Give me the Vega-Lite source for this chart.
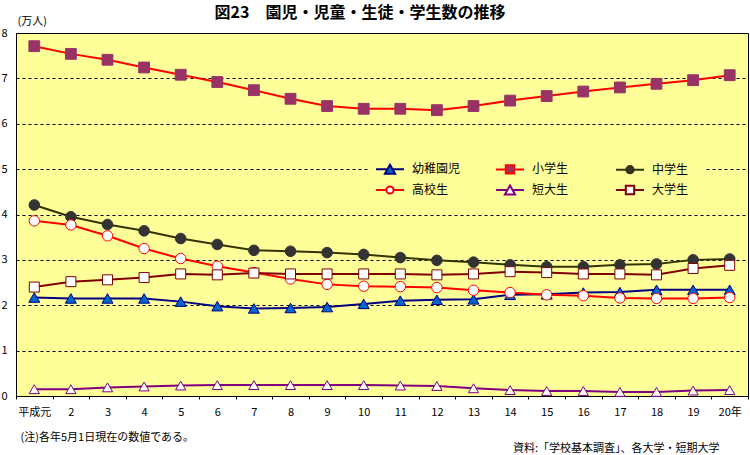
{
  "$schema": "https://vega.github.io/schema/vega-lite/v6.json",
  "width": 732,
  "height": 363,
  "autosize": {"type": "none"},
  "padding": {"left": 16, "top": 33, "right": 2, "bottom": 59},
  "background": "white",
  "title": {
    "text": "図23　園児・児童・生徒・学生数の推移",
    "anchor": "middle",
    "dx": -22,
    "offset": -6,
    "fontSize": 16,
    "fontWeight": "bold",
    "font": "Noto Sans CJK JP",
    "color": "black"
  },
  "config": {
    "view": {"fill": "#FFFF99", "stroke": "black", "strokeWidth": 1},
    "font": "Noto Sans CJK JP",
    "axis": {"labelColor": "black", "titleColor": "black", "labelFont": "Noto Sans CJK JP", "titleFont": "Noto Sans CJK JP", "titleFontWeight": "normal"}
  },
  "data": {
    "values": [
      {"year": "平成元", "幼稚園児": 2.17, "小学生": 7.71, "中学生": 4.21, "高校生": 3.86, "短大生": 0.15, "大学生": 2.40},
      {"year": "2", "幼稚園児": 2.15, "小学生": 7.54, "中学生": 3.95, "高校生": 3.77, "短大生": 0.15, "大学生": 2.52},
      {"year": "3", "幼稚園児": 2.15, "小学生": 7.41, "中学生": 3.78, "高校生": 3.53, "短大生": 0.19, "大学生": 2.56},
      {"year": "4", "幼稚園児": 2.15, "小学生": 7.24, "中学生": 3.64, "高校生": 3.25, "短大生": 0.21, "大学生": 2.61},
      {"year": "5", "幼稚園児": 2.08, "小学生": 7.08, "中学生": 3.47, "高校生": 3.03, "短大生": 0.23, "大学生": 2.69},
      {"year": "6", "幼稚園児": 1.98, "小学生": 6.92, "中学生": 3.34, "高校生": 2.86, "短大生": 0.24, "大学生": 2.67},
      {"year": "7", "幼稚園児": 1.93, "小学生": 6.74, "中学生": 3.21, "高校生": 2.72, "短大生": 0.24, "大学生": 2.71},
      {"year": "8", "幼稚園児": 1.94, "小学生": 6.55, "中学生": 3.19, "高校生": 2.58, "短大生": 0.24, "大学生": 2.69},
      {"year": "9", "幼稚園児": 1.96, "小学生": 6.39, "中学生": 3.16, "高校生": 2.46, "短大生": 0.24, "大学生": 2.69},
      {"year": "10", "幼稚園児": 2.03, "小学生": 6.33, "中学生": 3.12, "高校生": 2.42, "短大生": 0.24, "大学生": 2.69},
      {"year": "11", "幼稚園児": 2.10, "小学生": 6.33, "中学生": 3.05, "高校生": 2.41, "短大生": 0.23, "大学生": 2.69},
      {"year": "12", "幼稚園児": 2.12, "小学生": 6.30, "中学生": 2.99, "高校生": 2.39, "短大生": 0.22, "大学生": 2.67},
      {"year": "13", "幼稚園児": 2.13, "小学生": 6.39, "中学生": 2.95, "高校生": 2.33, "短大生": 0.17, "大学生": 2.69},
      {"year": "14", "幼稚園児": 2.23, "小学生": 6.51, "中学生": 2.89, "高校生": 2.28, "短大生": 0.13, "大学生": 2.74},
      {"year": "15", "幼稚園児": 2.24, "小学生": 6.61, "中学生": 2.85, "高校生": 2.23, "短大生": 0.11, "大学生": 2.72},
      {"year": "16", "幼稚園児": 2.28, "小学生": 6.71, "中学生": 2.85, "高校生": 2.21, "短大生": 0.11, "大学生": 2.69},
      {"year": "17", "幼稚園児": 2.29, "小学生": 6.80, "中学生": 2.89, "高校生": 2.16, "短大生": 0.09, "大学生": 2.69},
      {"year": "18", "幼稚園児": 2.34, "小学生": 6.88, "中学生": 2.91, "高校生": 2.15, "短大生": 0.09, "大学生": 2.67},
      {"year": "19", "幼稚園児": 2.34, "小学生": 6.96, "中学生": 3.00, "高校生": 2.15, "短大生": 0.12, "大学生": 2.81},
      {"year": "20年", "幼稚園児": 2.34, "小学生": 7.07, "中学生": 3.02, "高校生": 2.17, "短大生": 0.13, "大学生": 2.88}
    ]
  },
  "transform": [
    {"fold": ["幼稚園児", "小学生", "中学生", "高校生", "短大生", "大学生"], "as": ["series", "value"]}
  ],
  "layer": [
    {
      "mark": {"type": "line", "strokeWidth": 2},
      "encoding": {
        "x": {
          "field": "year",
          "type": "ordinal",
          "sort": ["平成元", "2", "3", "4", "5", "6", "7", "8", "9", "10", "11", "12", "13", "14", "15", "16", "17", "18", "19", "20年"],
          "scale": {"type": "band", "paddingInner": 0, "paddingOuter": 0},
          "axis": {
            "labelAngle": 0,
            "tickBand": "extent",
            "ticks": true,
            "tickSize": 3,
            "tickColor": "black",
            "domainColor": "black",
            "labelFontSize": 11,
            "labelPadding": 7,
            "title": "(注)各年5月1日現在の数値である。",
            "titleFontSize": 11,
            "titleAnchor": "start",
            "titleAlign": "left",
            "titleBaseline": "middle",
            "titleX": 4,
            "titleY": 41
          }
        },
        "y": {
          "field": "value",
          "type": "quantitative",
          "scale": {"domain": [0, 8], "nice": false},
          "axis": {
            "values": [0, 1, 2, 3, 4, 5, 6, 7, 8],
            "grid": true,
            "gridColor": "black",
            "gridDash": [3, 3],
            "gridWidth": 1,
            "ticks": false,
            "domainColor": "black",
            "labelFontSize": 11,
            "labelPadding": 9,
            "title": "(万人)",
            "titleFontSize": 11,
            "titleAngle": 0,
            "titleAlign": "left",
            "titleBaseline": "middle",
            "titleX": 1,
            "titleY": -12
          }
        },
        "stroke": {
          "field": "series",
          "type": "nominal",
          "scale": {
            "domain": ["幼稚園児", "小学生", "中学生", "高校生", "短大生", "大学生"],
            "range": ["#000080", "#FF0000", "#333300", "#FF0000", "#800080", "#800000"]
          },
          "legend": {
            "orient": "none",
            "legendX": 352,
            "legendY": 114,
            "title": null,
            "direction": "horizontal",
            "columns": 3,
            "gridAlign": "all",
            "columnPadding": 30,
            "rowPadding": 3,
            "padding": 16,
            "fillColor": "#FFFF99",
            "symbolSize": 36,
            "labelOffset": 16,
            "labelFontSize": 12,
            "labelFont": "Noto Sans CJK JP",
            "labelColor": "black",
            "encode": {
              "symbols": {
                "update": {
                  "shape": {"signal": "(datum.value === '幼稚園児' || datum.value === '短大生') ? 'M-4.67,0H-0.85M0.85,0H4.67M0,-1.5L1.7,1.5L-1.7,1.5Z' : (datum.value === '小学生' || datum.value === '大学生') ? 'M-4.67,0H-1.4M1.4,0H4.67M-1.4,-1.4H1.4V1.4H-1.4Z' : 'M-4.67,0H-1.2M1.2,0H4.67M-1.2,0A1.2,1.2,0,1,0,1.2,0A1.2,1.2,0,1,0,-1.2,0Z'"},
                  "fill": {"signal": "datum.value === '幼稚園児' ? '#0066CC' : datum.value === '小学生' ? '#993366' : datum.value === '中学生' ? '#333333' : '#FFFFFF'"},
                  "stroke": {"signal": "datum.value === '幼稚園児' ? '#000080' : datum.value === '小学生' ? '#FF0000' : datum.value === '中学生' ? '#333300' : datum.value === '高校生' ? '#FF0000' : datum.value === '短大生' ? '#800080' : '#800000'"},
                  "strokeWidth": {"value": 2},
                  "opacity": {"value": 1},
                  "fillOpacity": {"value": 1},
                  "strokeOpacity": {"value": 1}
                }
              }
            }
          }
        }
      }
    },
    {
      "mark": {"type": "point", "filled": false, "strokeWidth": 1, "opacity": 1},
      "encoding": {
        "x": {
          "field": "year",
          "type": "ordinal",
          "sort": ["平成元", "2", "3", "4", "5", "6", "7", "8", "9", "10", "11", "12", "13", "14", "15", "16", "17", "18", "19", "20年"]
        },
        "y": {
          "field": "value",
          "type": "quantitative",
          "axis": {
            "orient": "right",
            "labels": false,
            "ticks": false,
            "domain": false,
            "grid": false,
            "title": "資料:「学校基本調査」、各大学・短期大学",
            "titleFontSize": 11,
            "titleAngle": 0,
            "titleAlign": "right",
            "titleBaseline": "middle",
            "titleX": -29,
            "titleY": 415
          }
        },
        "shape": {
          "field": "series",
          "type": "nominal",
          "scale": {
            "domain": ["幼稚園児", "小学生", "中学生", "高校生", "短大生", "大学生"],
            "range": ["triangle-up", "square", "circle", "circle", "triangle-up", "square"]
          },
          "legend": null
        },
        "fill": {
          "field": "series",
          "type": "nominal",
          "scale": {
            "domain": ["幼稚園児", "小学生", "中学生", "高校生", "短大生", "大学生"],
            "range": ["#0066CC", "#993366", "#333333", "#FFFFFF", "#FFFFFF", "#FFFFFF"]
          },
          "legend": null
        },
        "stroke": {
          "field": "series",
          "type": "nominal",
          "scale": {
            "domain": ["幼稚園児", "小学生", "中学生", "高校生", "短大生", "大学生"],
            "range": ["#000080", "#993366", "#333333", "#FF0000", "#800080", "#800000"]
          },
          "legend": null
        },
        "size": {
          "field": "series",
          "type": "nominal",
          "scale": {
            "domain": ["幼稚園児", "小学生", "中学生", "高校生", "短大生", "大学生"],
            "range": [121, 100, 64, 64, 100, 81]
          },
          "legend": null
        }
      }
    }
  ],
  "resolve": {"scale": {"stroke": "independent"}, "axis": {"y": "independent"}}
}
